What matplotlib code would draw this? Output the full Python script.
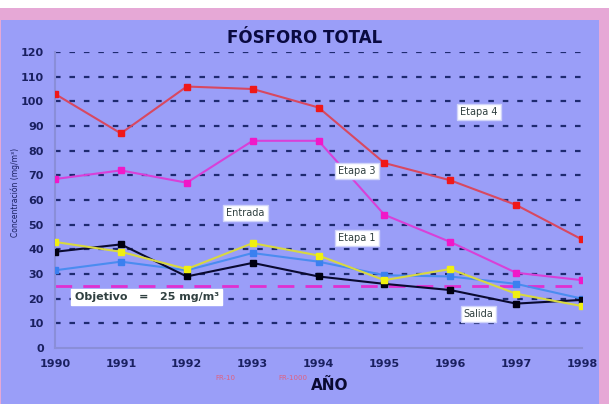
import matplotlib.pyplot as plt

# datos
anios = [1990, 1991, 1992, 1993, 1994, 1995, 1996, 1997, 1998]
etapa4 = [103, 87, 106, 105, 97.5, 75, 68, 58, 44]
etapa3 = [68.5, 72, 67, 84, 84, 54, 43, 30.5, 27.5]
etapa1 = [43, 39, 32, 42.5, 37.5, 27.5, 32, 22, 17]
entrada = [31.5, 35, 31.5, 38.5, 35, 29.5, 29, 26, 20]
salida = [39, 42, 29, 34.5, 29, 26, 23.5, 18, 19.5]
objetivo = 25
yticks = list(range(0, 130, 10))

fondo = '#9A9EF8'
fig = plt.figure(figsize=(6.09, 4.04), dpi=100)
fig.patch.set_facecolor('white')
# marco rosa y panel azul
fig.patches.append(plt.Rectangle((0, 0), 1, 1 - 8 / 404, transform=fig.transFigure,
                                 facecolor='#E6A8D6', edgecolor='none', zorder=-3))
fig.patches.append(plt.Rectangle((1 / 609, 0), 598 / 609, 1 - 20 / 404, transform=fig.transFigure,
                                 facecolor=fondo, edgecolor='none', zorder=-2))

ax = fig.add_axes([55 / 609, 1 - 348 / 404, 527 / 609, 296 / 404])
ax.set_facecolor(fondo)
ax.patch.set_alpha(0)

for v in yticks[1:]:
    ax.axhline(v, color='#1E2A70', lw=1.6, ls=(0, (2.5, 4)), zorder=1)

ax.axhline(objetivo, color='#E030D0', lw=2, ls=(0, (6, 4)), zorder=2)

ax.plot(anios, etapa4, color='#D84860', lw=1.5, marker='s', ms=4,
        mfc='#F01818', mec='#F01818', zorder=5)
ax.plot(anios, etapa3, color='#D840D8', lw=1.5, marker='s', ms=4,
        mfc='#F018C8', mec='#F018C8', zorder=5)
ax.plot(anios, entrada, color='#4A8CF0', lw=1.5, marker='s', ms=4,
        mfc='#3A80F0', mec='#3A80F0', zorder=4)
ax.plot(anios, salida, color='#0A0A30', lw=1.5, marker='s', ms=4,
        mfc='#000010', mec='#000010', zorder=4)
ax.plot(anios, etapa1, color='#D8D840', lw=1.5, marker='s', ms=4,
        mfc='#F0F010', mec='#F0F010', zorder=6)

ax.set_xlim(1990, 1998)
ax.set_ylim(0, 120)
ax.set_xticks(anios)
ax.set_yticks(yticks)
ax.tick_params(length=0, labelsize=8, labelcolor='#1A2060', pad=8)
for lab in ax.get_xticklabels() + ax.get_yticklabels():
    lab.set_fontweight('bold')
for s in ['top', 'right']:
    ax.spines[s].set_visible(False)
for s in ['left', 'bottom']:
    ax.spines[s].set_color('#8A8ED8')
    ax.spines[s].set_linewidth(1.5)

caja = dict(boxstyle='square,pad=0.3', facecolor='white', edgecolor='#D0D4FA')
ax.text(1996.15, 94.5, 'Etapa 4', fontsize=7, color='#304040', bbox=caja, zorder=8)
ax.text(1994.3, 70.5, 'Etapa 3', fontsize=7, color='#304040', bbox=caja, zorder=8)
ax.text(1992.6, 53.5, 'Entrada', fontsize=7, color='#304040', bbox=caja, zorder=8)
ax.text(1994.3, 43.5, 'Etapa 1', fontsize=7, color='#304040', bbox=caja, zorder=8)
ax.text(1996.2, 12.5, 'Salida', fontsize=7, color='#304040', bbox=caja, zorder=8)
ax.text(1990.3, 19.5, 'Objetivo   =   25 mg/m³', fontsize=8, fontweight='bold', color='#304040',
        bbox=dict(boxstyle='square,pad=0.3', facecolor='white', edgecolor='white'), zorder=8)

fig.text(0.5, 1 - 38 / 404, 'FÓSFORO TOTAL', ha='center', va='center',
         fontsize=12, fontweight='bold', color='#0A0A40')
fig.text(330 / 609, 1 - 385 / 404, 'AÑO', ha='center', va='center',
         fontsize=11, fontweight='bold', color='#0A0A30')
fig.text(15 / 609, 1 - 192 / 404, 'Concentración (mg/m³)', rotation=90, ha='center',
         va='center', fontsize=5.5, color='#1A2060')
fig.text(225 / 609, 1 - 378 / 404, 'FR-10', ha='center', va='center',
         fontsize=5, color='#E06080')
fig.text(293 / 609, 1 - 378 / 404, 'FR-1000', ha='center', va='center',
         fontsize=5, color='#E06080')

fig.savefig('out.png', dpi=100, facecolor=fig.get_facecolor())
